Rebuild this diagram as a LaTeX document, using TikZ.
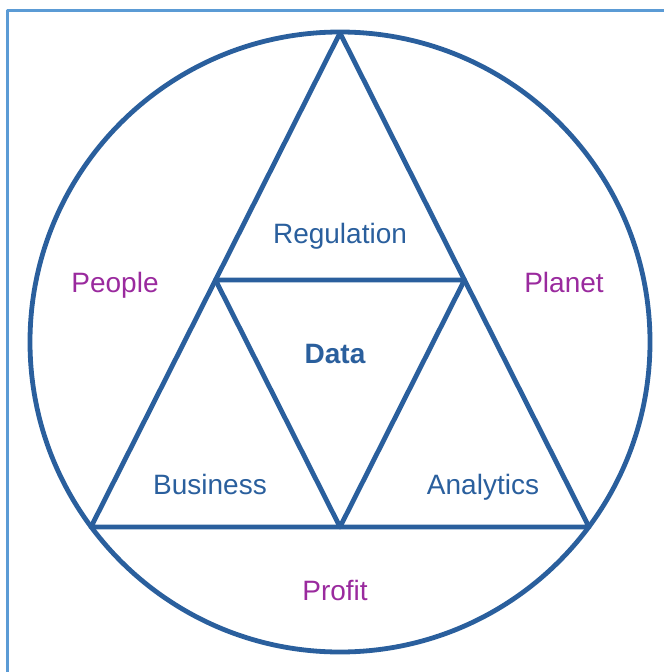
\documentclass[tikz,border=0pt]{standalone}
\usepackage{fontspec}
\setmainfont{Liberation Sans}
\usetikzlibrary{calc, positioning}
\definecolor{ringblue}{HTML}{2A5F9D}
\definecolor{framblue}{HTML}{5B9BD5}
\definecolor{pillar}{HTML}{9A2A9E}
\tikzset{
  triad/.style={
	x=1pt, y=-1pt, % one unit is one pixel of the picture
	line join=round,
	every node/.style={font=\fontsize{28}{32}\selectfont, anchor=base}, % text is set on its baseline
	edge line/.style={draw=ringblue, line width=4.8pt}, % circle and triangle lines
	inner/.style={text=ringblue}, % labels inside the triangle
	outer/.style={text=pillar}, % labels between triangle and circle
  }
}
\begin{document}
\begin{tikzpicture}[triad]
	  \useasboundingbox (0,0) rectangle (664,672);
	  % frame
	  \draw[framblue, line width=3.5pt] (7.5,672) -- (7.5,10.5) -- (664,10.5);
	  % circle
	  \node[circle, edge line, minimum size=620pt, inner sep=0pt, anchor=center] (ring) at (340,342) {};
	  % triangle corners and mid points
	  \coordinate (top) at (340,33);
	  \coordinate (bl) at (91,527);
	  \coordinate (br) at (589,527);
	  \coordinate (ml) at ($(top)!0.5!(bl)$);
	  \coordinate (mr) at ($(top)!0.5!(br)$);
	  \coordinate (mb) at ($(bl)!0.5!(br)$);
	  \draw[edge line] (top) -- (bl) -- (br) -- cycle;
	  \draw[edge line] (ml) -- (mr) -- (mb) -- cycle;
	  % labels
	  \node[inner] (reg) at (340,243) {Regulation};
	  \node[inner, font=\fontsize{28}{32}\selectfont\bfseries] (data) at (335,363) {Data};
	  \node[inner] (bus) at (210,494) {Business};
	  \node[inner] (ana) at (483,494) {Analytics};
	  \node[outer] (peo) at (115,292) {People};
	  \node[outer] (pla) at (564,292) {Planet};
	  \node[outer] (pro) at (335,600) {Profit};
\end{tikzpicture}
\end{document}
